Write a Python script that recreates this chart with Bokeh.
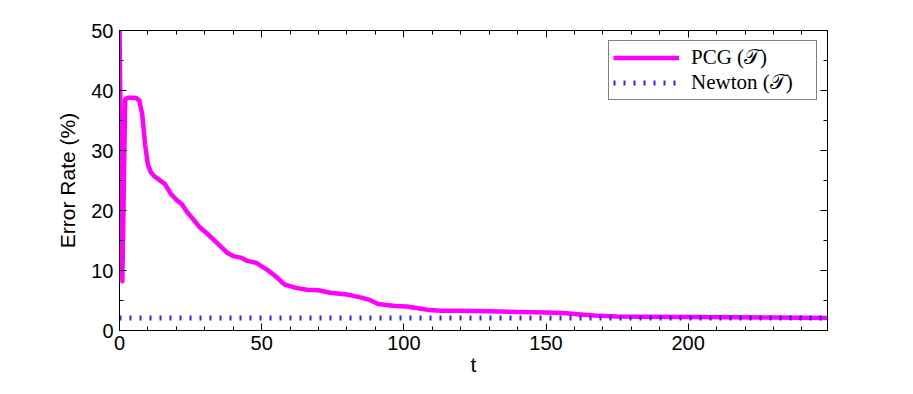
from bokeh.plotting import figure
from bokeh.models import (Range1d, SingleIntervalTicker, LinearAxis, Legend, LegendItem)
from bokeh.embed import file_html
from bokeh.resources import INLINE

# ---- data ----
pcg_t = [0, 1, 2, 3, 5, 6, 7, 8, 9, 10, 11, 12, 14, 16, 18, 20, 22, 24, 26, 28, 30, 33, 36,
         38, 40, 43, 45, 48, 50, 52, 55, 58, 62, 66, 70, 74, 80, 84, 88, 91, 97, 101, 105,
         109, 113, 120, 130, 140, 150, 156, 161, 167, 175, 185, 200, 215, 230, 249]
pcg_err = [50.5, 8.2, 38.5, 38.8, 38.8, 38.7, 38.3, 36.0, 31.0, 27.6, 26.4, 25.8, 25.1, 24.4,
           22.8, 21.8, 21.0, 19.6, 18.5, 17.3, 16.5, 15.2, 13.8, 12.9, 12.4, 12.1, 11.6, 11.3,
           10.7, 10.1, 9.0, 7.7, 7.1, 6.8, 6.7, 6.3, 6.0, 5.6, 5.1, 4.4, 4.1, 4.0, 3.7, 3.4,
           3.3, 3.3, 3.2, 3.1, 3.0, 2.9, 2.7, 2.5, 2.35, 2.3, 2.25, 2.2, 2.15, 2.1]
newton_t = [0, 249]
newton_err = [2.1, 2.1]

x_max = 249
y_max = 50
labels = ["PCG (\U0001D4AF)", "Newton (\U0001D4AF)"]

TICK_FONT = "Liberation Sans"

p = figure(width=897, height=378, output_backend="svg", toolbar_location=None,
           x_range=Range1d(0, x_max), y_range=Range1d(0, y_max),
           min_border_left=119, min_border_right=70, min_border_top=30, min_border_bottom=47)
p.xaxis.visible = False
p.yaxis.visible = False
p.grid.visible = False
p.outline_line_color = "black"
p.outline_line_width = 1
p.background_fill_color = "white"
p.border_fill_color = "white"

def mk_axis(kind, show_labels):
    tick = SingleIntervalTicker(interval=50, num_minor_ticks=5) if kind == "x" else \
        SingleIntervalTicker(interval=10, num_minor_ticks=2)
    ax = LinearAxis(ticker=tick)
    ax.major_tick_in = 7
    ax.major_tick_out = 0
    ax.minor_tick_in = 4
    ax.minor_tick_out = 0
    ax.axis_line_color = "black"
    ax.major_tick_line_color = "black"
    ax.minor_tick_line_color = "black"
    if show_labels:
        ax.major_label_text_font = TICK_FONT
        ax.major_label_text_font_size = "20px"
        ax.major_label_text_color = "black"
        ax.axis_label_text_font = TICK_FONT
        ax.axis_label_text_font_size = "21px"
        ax.axis_label_text_font_style = "normal"
        ax.axis_label_text_color = "black"
    else:
        ax.major_label_text_font_size = "0px"
        ax.major_label_text_alpha = 0
    return ax

bx = mk_axis("x", True)
bx.axis_label = "t"
bx.major_label_standoff = 5
bx.axis_label_standoff = 0
ly = mk_axis("y", True)
ly.axis_label = "Error Rate (%)"
ly.major_label_standoff = 6
ly.axis_label_standoff = 9
p.add_layout(bx, "below")
p.add_layout(ly, "left")
p.add_layout(mk_axis("x", False), "above")
p.add_layout(mk_axis("y", False), "right")

r1 = p.line(pcg_t, pcg_err, line_color="#FF00FF", line_width=4.5, line_join="round")
r2 = p.line(newton_t, newton_err, line_color="#0000FF", line_width=5,
            line_dash="2 8", line_cap="butt", line_alpha=0.85)

leg = Legend(items=[LegendItem(label=labels[0], renderers=[r1]),
                    LegendItem(label=labels[1], renderers=[r2])],
             location="top_right")
leg.label_text_font = "Liberation Serif"
leg.label_text_font_size = "21px"
leg.label_text_color = "black"
leg.border_line_color = "black"
leg.border_line_width = 1
leg.background_fill_alpha = 1
leg.padding = 4
leg.spacing = 0
leg.glyph_width = 66
leg.glyph_height = 21
leg.label_height = 21
leg.label_width = 121
leg.label_standoff = 12
leg.margin = 10
p.add_layout(leg, "center")

open("out.html", "w").write(file_html(p, INLINE))
